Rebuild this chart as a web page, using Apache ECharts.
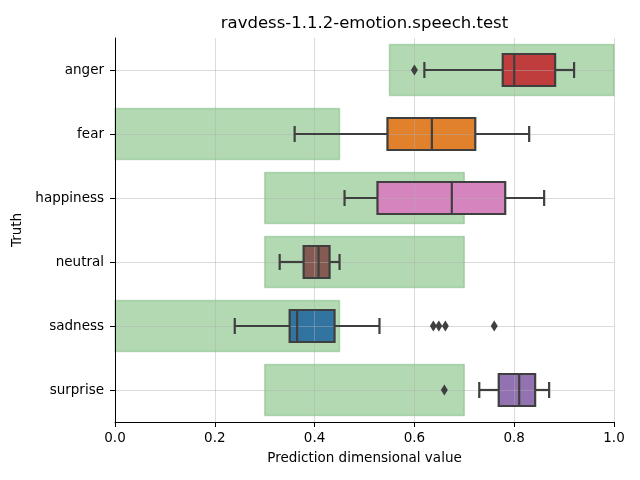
<!DOCTYPE html>
<html>
<head>
<meta charset="utf-8">
<script src="https://cdn.jsdelivr.net/npm/echarts@6/dist/echarts.min.js"></script>
<style>html,body{margin:0;padding:0;background:#fff}#c{width:640px;height:480px}</style>
</head>
<body>
<div id="c"></div>
<script>
var categories = ['anger', 'fear', 'happiness', 'neutral', 'sadness', 'surprise'];
var whiskerLow = [0.62, 0.36, 0.46, 0.33, 0.24, 0.73];
var q1 = [0.777, 0.546, 0.526, 0.378, 0.35, 0.769];
var median = [0.80, 0.635, 0.675, 0.408, 0.365, 0.81];
var q3 = [0.882, 0.722, 0.782, 0.43, 0.44, 0.842];
var whiskerHigh = [0.92, 0.83, 0.86, 0.45, 0.53, 0.87];
var rangeLow = [0.55, 0.0, 0.3, 0.3, 0.0, 0.3];
var rangeHigh = [1.0, 0.45, 0.7, 0.7, 0.45, 0.7];
var outlierCategory = ['anger', 'sadness', 'sadness', 'sadness', 'sadness', 'surprise'];
var outlierValue = [0.60, 0.638, 0.649, 0.662, 0.76, 0.66];
var boxColors = ['#c03d3e', '#e1812c', '#d684bd', '#845b53', '#3274a1', '#9372b2'];
var xTicks = [0.0, 0.2, 0.4, 0.6, 0.8, 1.0];

var font = 'DejaVu Sans';
var edge = '#3f3f3f';
var gridColor = 'rgba(176,176,176,0.45)';

var rangeData = categories.map(function (c, i) { return [i, rangeLow[i], rangeHigh[i]]; });
var boxData = categories.map(function (c, i) {
  return [i, whiskerLow[i], q1[i], median[i], q3[i], whiskerHigh[i]];
});
var outlierData = outlierValue.map(function (v, i) { return [v, outlierCategory[i]]; });

function boxGeom(api) {
  var ci = api.value(0);
  return {
    lo: api.coord([api.value(1), ci]),
    q1: api.coord([api.value(2), ci]),
    med: api.coord([api.value(3), ci]),
    q3: api.coord([api.value(4), ci]),
    hi: api.coord([api.value(5), ci]),
    h: api.size([0, 1])[1] * 0.5
  };
}

var chart = echarts.init(document.getElementById('c'), null, { renderer: 'canvas' });
chart.setOption({
  animation: false,
  backgroundColor: '#ffffff',
  title: {
    text: 'ravdess-1.1.2-emotion.speech.test',
    left: 364.5, top: 15, padding: 0, textAlign: 'center',
    textStyle: { fontFamily: font, fontSize: 16.5, fontWeight: 'normal', color: '#000' }
  },
  grid: { left: 115, right: 26, top: 38, bottom: 58, containLabel: false },
  xAxis: {
    type: 'value', min: 0, max: 1, interval: 0.2, z: 3,
    name: 'Prediction dimensional value', nameLocation: 'middle', nameGap: 29,
    nameTextStyle: { fontFamily: font, fontSize: 13.5, color: '#000' },
    axisLine: { show: true, lineStyle: { color: '#000', width: 1 } },
    axisTick: { show: true, inside: false, length: 5, lineStyle: { color: '#000' } },
    axisLabel: { fontFamily: font, fontSize: 13.5, color: '#000', margin: 9,
      formatter: function (v) { return v.toFixed(1); } },
    splitLine: { show: true, lineStyle: { color: gridColor, width: 1 } }
  },
  yAxis: {
    type: 'category', data: categories, inverse: true, z: 6,
    name: 'Truth', nameLocation: 'middle', nameGap: 89,
    nameTextStyle: { fontFamily: font, fontSize: 13.5, color: '#000' },
    axisLine: { show: true, lineStyle: { color: '#000', width: 1 } },
    axisTick: { show: true, alignWithLabel: true, length: 5, lineStyle: { color: '#000' } },
    axisLabel: { fontFamily: font, fontSize: 13.5, color: '#000', margin: 11 },
    splitLine: { show: false }
  },
  series: [
    {
      type: 'custom', z: 1, data: rangeData,
      encode: { x: [1, 2], y: 0 },
      renderItem: function (params, api) {
        var ci = api.value(0);
        var p0 = api.coord([api.value(1), ci]);
        var p1 = api.coord([api.value(2), ci]);
        var h = api.size([0, 1])[1] * 0.8;
        return {
          type: 'rect',
          shape: { x: p0[0], y: p0[1] - h / 2, width: p1[0] - p0[0], height: h },
          style: { fill: 'rgba(0,128,0,0.3)', stroke: 'rgba(0,128,0,0.22)', lineWidth: 1.5 }
        };
      }
    },
    {
      type: 'custom', z: 2, data: boxData,
      encode: { x: [1, 2, 3, 4, 5], y: 0 },
      renderItem: function (params, api) {
        var g = boxGeom(api);
        var y = g.q1[1];
        return {
          type: 'rect',
          shape: { x: g.q1[0], y: y - g.h / 2, width: g.q3[0] - g.q1[0], height: g.h },
          style: { fill: boxColors[params.dataIndex], stroke: null }
        };
      }
    },
    {
      type: 'scatter', data: [], z: 3, silent: true,
      markLine: {
        z: 3, silent: true, symbol: 'none', label: { show: false },
        lineStyle: { color: gridColor, width: 1, type: 'solid', opacity: 1 },
        data: categories.map(function (c) { return { yAxis: c }; })
      }
    },
    {
      type: 'custom', z: 4, data: boxData,
      encode: { x: [1, 2, 3, 4, 5], y: 0 },
      renderItem: function (params, api) {
        var g = boxGeom(api);
        var y = g.q1[1];
        var h = g.h;
        var cap = h / 2;
        var ls = { stroke: edge, lineWidth: 2.2 };
        return {
          type: 'group',
          children: [
            { type: 'line', shape: { x1: g.lo[0], y1: y, x2: g.q1[0], y2: y }, style: ls },
            { type: 'line', shape: { x1: g.q3[0], y1: y, x2: g.hi[0], y2: y }, style: ls },
            { type: 'line', shape: { x1: g.lo[0], y1: y - cap / 2, x2: g.lo[0], y2: y + cap / 2 }, style: ls },
            { type: 'line', shape: { x1: g.hi[0], y1: y - cap / 2, x2: g.hi[0], y2: y + cap / 2 }, style: ls },
            { type: 'rect', shape: { x: g.q1[0], y: y - h / 2, width: g.q3[0] - g.q1[0], height: h },
              style: { fill: null, stroke: edge, lineWidth: 2.2 } },
            { type: 'line', shape: { x1: g.med[0], y1: y - h / 2, x2: g.med[0], y2: y + h / 2 }, style: ls }
          ]
        };
      }
    },
    {
      type: 'scatter', z: 5, data: outlierData,
      symbol: 'diamond', symbolSize: [7, 11],
      itemStyle: { color: edge, opacity: 1 }
    }
  ]
});
</script>
</body>
</html>
